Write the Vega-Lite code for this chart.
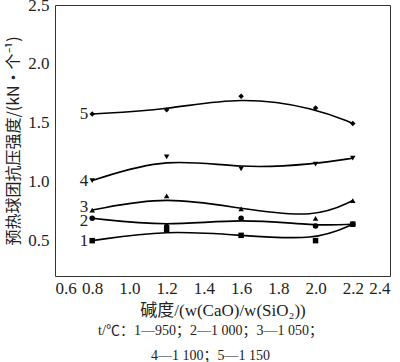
{
  "$schema": "https://vega.github.io/schema/vega-lite/v6.json",
  "autosize": "none",
  "width": 335,
  "height": 271,
  "padding": {"left": 55, "top": 5, "right": 10, "bottom": 86},
  "background": "white",
  "config": {
    "font": "Liberation Serif, Noto Sans CJK SC",
    "view": {"stroke": "#333", "strokeWidth": 1},
    "axis": {"grid": false, "ticks": false, "domain": false, "labelColor": "#222", "titleColor": "#222", "labelFont": "Liberation Serif", "labelFontSize": 17}
  },
  "title": {
    "text": ["t/℃：1—950；2—1 000；3—1 050；", "4—1 100；5—1 150"],
    "orient": "bottom",
    "anchor": "middle",
    "fontSize": 14,
    "fontWeight": "normal",
    "lineHeight": 25,
    "offset": 6,
    "dx": -12,
    "color": "#222",
    "font": "Liberation Serif, Noto Sans CJK SC"
  },
  "data": {
    "values": [
      {"s": "1", "x": 0.8, "y": 0.50},
      {"s": "1", "x": 1.2, "y": 0.59},
      {"s": "1", "x": 1.6, "y": 0.545},
      {"s": "1", "x": 2.0, "y": 0.50},
      {"s": "1", "x": 2.2, "y": 0.64},
      {"s": "2", "x": 0.8, "y": 0.69},
      {"s": "2", "x": 1.2, "y": 0.62},
      {"s": "2", "x": 1.6, "y": 0.69},
      {"s": "2", "x": 2.0, "y": 0.625},
      {"s": "2", "x": 2.2, "y": 0.64},
      {"s": "3", "x": 0.8, "y": 0.76},
      {"s": "3", "x": 1.2, "y": 0.88},
      {"s": "3", "x": 1.6, "y": 0.77},
      {"s": "3", "x": 2.0, "y": 0.69},
      {"s": "3", "x": 2.2, "y": 0.84},
      {"s": "4", "x": 0.8, "y": 1.01},
      {"s": "4", "x": 1.2, "y": 1.21},
      {"s": "4", "x": 1.6, "y": 1.11},
      {"s": "4", "x": 2.0, "y": 1.15},
      {"s": "4", "x": 2.2, "y": 1.20},
      {"s": "5", "x": 0.8, "y": 1.575},
      {"s": "5", "x": 1.2, "y": 1.61},
      {"s": "5", "x": 1.6, "y": 1.725},
      {"s": "5", "x": 2.0, "y": 1.625},
      {"s": "5", "x": 2.2, "y": 1.495}
    ]
  },
  "encoding": {
    "x": {
      "field": "x", "type": "quantitative",
      "scale": {"domain": [0.6, 2.4], "nice": false, "zero": false},
      "axis": {"values": [0.6, 0.8, 1.0, 1.2, 1.4, 1.6, 1.8, 2.0, 2.2, 2.4], "format": ".1f", "labelPadding": 4, "title": "碱度/(w(CaO)/w(SiO₂))", "titleFontSize": 17, "titleFontWeight": "normal", "titlePadding": 6, "titleFont": "Liberation Serif, Noto Sans CJK SC"}
    },
    "y": {
      "field": "y", "type": "quantitative",
      "scale": {"domain": [0.2, 2.5], "nice": false, "zero": false},
      "axis": {"values": [0.5, 1.0, 1.5, 2.0, 2.5], "format": ".1f", "labelPadding": 6, "title": "预热球团抗压强度/(kN·个⁻¹)", "titleFontSize": 16, "titleFontWeight": "normal", "titlePadding": 6, "titleFont": "Noto Sans CJK SC"}
    }
  },
  "layer": [
    {
      "mark": {"type": "line", "color": "black", "strokeWidth": 1.6, "interpolate": "basis"},
      "encoding": {"detail": {"field": "s"}}
    },
    {
      "mark": {"type": "point", "filled": true, "color": "black", "opacity": 1, "size": 30},
      "encoding": {
        "shape": {"field": "s", "type": "nominal", "legend": null,
          "scale": {"domain": ["1", "2", "3", "4", "5"], "range": ["square", "circle", "triangle-up", "triangle-down", "diamond"]}}
      }
    },
    {
      "transform": [{"filter": "datum.x == 0.8 && datum.s != '3' && datum.s != '2'"}],
      "mark": {"type": "text", "align": "right", "baseline": "middle", "dx": -4, "fontSize": 17, "color": "#222", "font": "Liberation Serif"},
      "encoding": {"text": {"field": "s"}}
    },
    {
      "transform": [{"filter": "datum.x == 0.8 && datum.s == '3'"}],
      "mark": {"type": "text", "align": "right", "baseline": "middle", "dx": -4, "dy": -3, "fontSize": 17, "color": "#222", "font": "Liberation Serif"},
      "encoding": {"text": {"field": "s"}}
    },
    {
      "transform": [{"filter": "datum.x == 0.8 && datum.s == '2'"}],
      "mark": {"type": "text", "align": "right", "baseline": "middle", "dx": -4, "dy": 3, "fontSize": 17, "color": "#222", "font": "Liberation Serif"},
      "encoding": {"text": {"field": "s"}}
    }
  ]
}
